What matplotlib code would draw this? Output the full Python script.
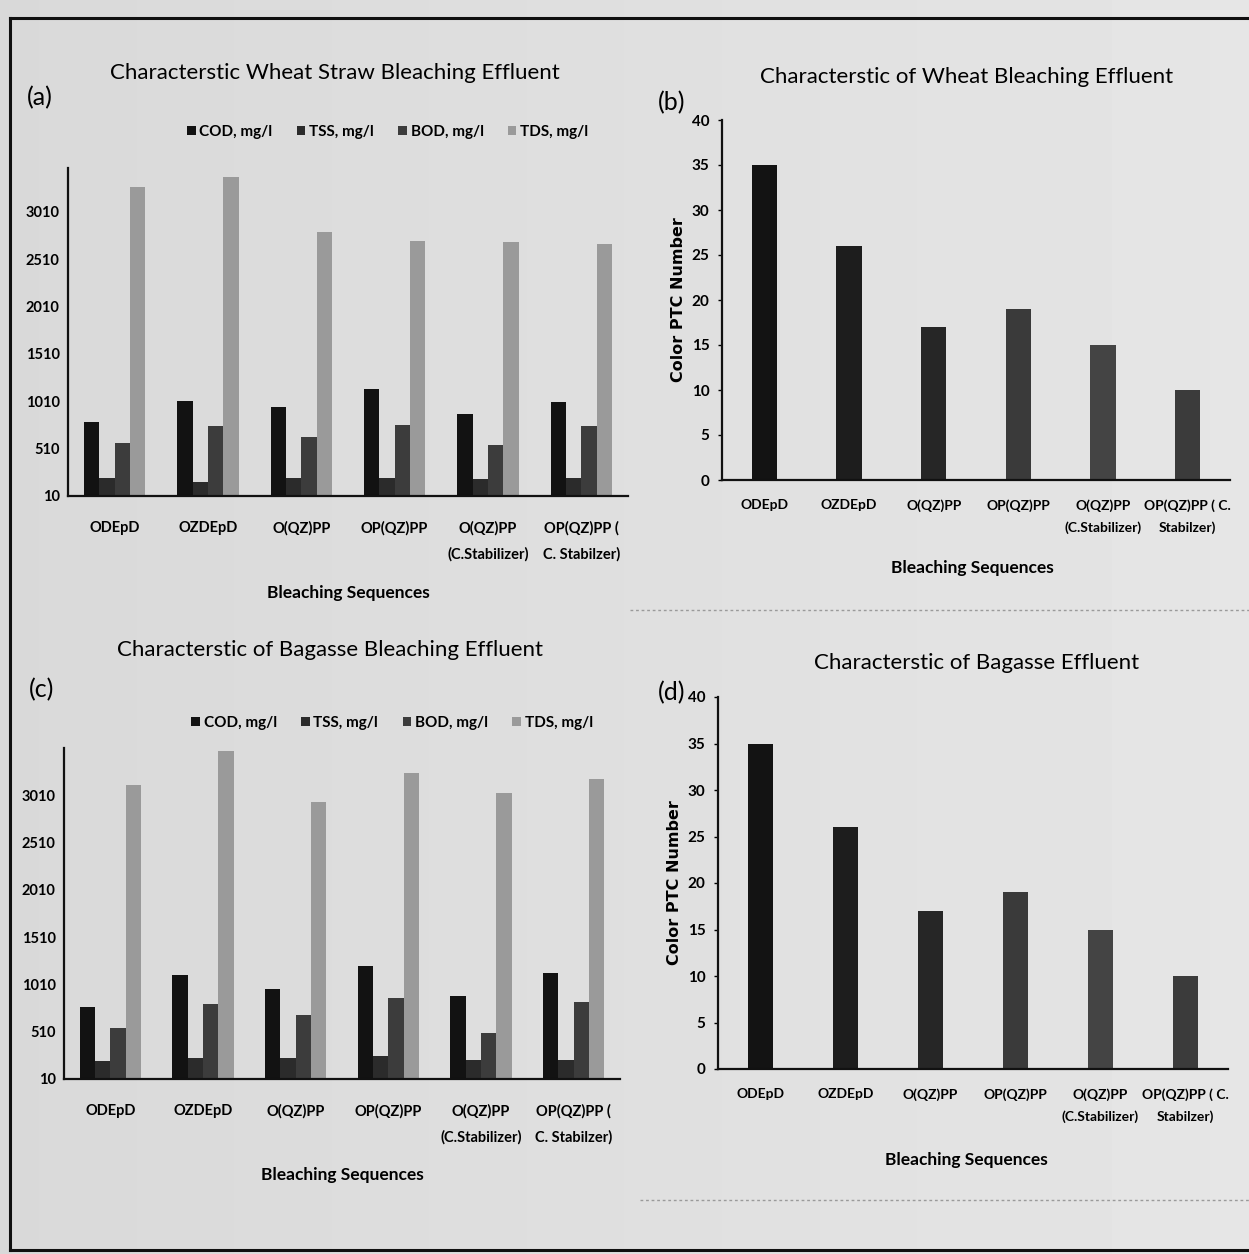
import matplotlib
matplotlib.use("Agg")
import matplotlib.pyplot as plt
import numpy as np
from matplotlib.lines import Line2D

# --- data -------------------------------------------------------------
seq_labels_ac = ["ODEpD", "OZDEpD", "O(QZ)PP", "OP(QZ)PP",
                 "O(QZ)PP\n(C.Stabilizer)", "OP(QZ)PP (\nC. Stabilzer)"]
seq_labels_bd = ["ODEpD", "OZDEpD", "O(QZ)PP", "OP(QZ)PP",
                 "O(QZ)PP\n(C.Stabilizer)", "OP(QZ)PP ( C.\nStabilzer)"]

param_names = ["COD, mg/l", "TSS, mg/l", "BOD, mg/l", "TDS, mg/l"]

# wheat straw effluent (mg/l)
wheat_cod = [790, 1010, 950, 1140, 880, 1000]
wheat_tss = [200, 160, 200, 200, 190, 200]
wheat_bod = [570, 750, 630, 760, 550, 750]
wheat_tds = [3270, 3380, 2800, 2700, 2690, 2670]

# bagasse effluent (mg/l)
bagasse_cod = [770, 1110, 960, 1210, 890, 1130]
bagasse_tss = [200, 230, 230, 250, 210, 210]
bagasse_bod = [550, 800, 690, 870, 500, 820]
bagasse_tds = [3120, 3480, 2940, 3250, 3030, 3180]

# colour (PTC units)
wheat_color = [35, 26, 17, 19, 15, 10]
bagasse_color = [35, 26, 17, 19, 15, 10]

W, H = 1249, 1254
NARROW = ["Liberation Sans Narrow", "Lato", "DejaVu Sans"]
plt.rcParams["font.family"] = NARROW

fig = plt.figure(figsize=(W / 100, H / 100), dpi=100)

# scanned page background, a touch lighter to the right
bg = fig.add_axes([0, 0, 1, 1], zorder=-10)
grad = np.linspace(0.85, 0.90, 256)[None, :]
bg.imshow(grad, cmap="gray", vmin=0, vmax=1, aspect="auto", extent=[0, 1, 0, 1])
bg.set_axis_off()


def box(x0, y0, x1, y1):
    """pixel box (top-left origin) -> figure fraction rect"""
    return [x0 / W, 1 - y1 / H, (x1 - x0) / W, (y1 - y0) / H]


def ftext(x, y, s, **kw):
    fig.text(x / W, 1 - y / H, s, **kw)


def style_axes(ax):
    ax.set_facecolor("none")
    for side in ("top", "right"):
        ax.spines[side].set_visible(False)
    for side in ("left", "bottom"):
        ax.spines[side].set_linewidth(1.6)
        ax.spines[side].set_color("#111111")
    ax.tick_params(axis="x", length=0, pad=18)
    ax.tick_params(axis="y", length=3, width=1, pad=6)


group_colors = ["#121212", "#2b2b2b", "#3c3c3c", "#9a9a9a"]


def grouped(ax, series, labels, ytop):
    x = np.arange(len(labels))
    w = 0.165
    for i, vals in enumerate(series):
        base = np.full(len(vals), 10)
        ax.bar(x + (i - 1.5) * w, np.array(vals) - 10, w, bottom=base,
               color=group_colors[i], label=param_names[i], linewidth=0)
    ax.set_xlim(-0.5, len(labels) - 0.5)
    ax.set_ylim(10, ytop)
    ax.set_yticks(np.arange(10, 3011, 500))
    ax.set_xticks(x)
    ax.set_xticklabels(labels, fontsize=10.5, fontweight="bold", linespacing=2.0)
    for t in ax.get_yticklabels():
        t.set_fontsize(10.5)
        t.set_fontweight("bold")
    ax.tick_params(axis="y", length=0)
    ax.legend(loc="center", bbox_to_anchor=(0.571, 1.11), ncol=4, frameon=False,
              handlelength=0.55, handleheight=0.55, handletextpad=0.25,
              columnspacing=1.6, prop={"family": NARROW, "size": 11, "weight": "bold"})


def colour_bars(ax, vals, labels):
    x = np.arange(len(labels))
    shades = ["#131313", "#1d1d1d", "#262626", "#3a3a3a", "#444444", "#3b3b3b"]
    ax.bar(x, vals, 0.3, color=shades, linewidth=0)
    ax.set_xlim(-0.5, len(labels) - 0.5)
    ax.set_ylim(0, 40)
    ax.set_yticks(np.arange(0, 41, 5))
    ax.set_xticks(x)
    ax.set_xticklabels(labels, fontsize=10, fontweight="bold", linespacing=1.9)
    for t in ax.get_yticklabels():
        t.set_fontsize(11)
        t.set_fontweight("bold")
    ax.tick_params(axis="x", pad=14)
    ax.set_ylabel("Color PTC Number", family="DejaVu Sans", fontsize=11.5,
                  fontweight="bold", labelpad=4)


# (a) wheat straw effluent parameters
ax_a = fig.add_axes(box(68, 168, 628, 496))
style_axes(ax_a)
grouped(ax_a, [wheat_cod, wheat_tss, wheat_bod, wheat_tds], seq_labels_ac, 3470)
ftext(335, 73, "Characterstic Wheat Straw Bleaching Effluent", fontsize=16,
      ha="center", va="center")
ftext(40, 98, "(a)", fontsize=18, ha="center", va="center")
ftext(348, 593, "Bleaching Sequences", fontsize=12.5, fontweight="bold",
      ha="center", va="center")

# (b) wheat effluent colour
ax_b = fig.add_axes(box(722, 120, 1230, 480))
style_axes(ax_b)
colour_bars(ax_b, wheat_color, seq_labels_bd)
ftext(967, 77, "Characterstic of Wheat Bleaching Effluent", fontsize=16,
      ha="center", va="center")
ftext(672, 103, "(b)", fontsize=18, ha="center", va="center")
ftext(972, 568, "Bleaching Sequences", fontsize=12.5, fontweight="bold",
      ha="center", va="center")

# (c) bagasse effluent parameters
ax_c = fig.add_axes(box(64, 748, 620, 1079))
style_axes(ax_c)
grouped(ax_c, [bagasse_cod, bagasse_tss, bagasse_bod, bagasse_tds], seq_labels_ac, 3510)
ax_c.get_legend().set_bbox_to_anchor((0.59, 1.075))
ftext(330, 650, "Characterstic of Bagasse Bleaching Effluent", fontsize=16,
      ha="center", va="center")
ftext(42, 690, "(c)", fontsize=18, ha="center", va="center")
ftext(342, 1175, "Bleaching Sequences", fontsize=12.5, fontweight="bold",
      ha="center", va="center")

# (d) bagasse effluent colour
ax_d = fig.add_axes(box(718, 697, 1228, 1069))
style_axes(ax_d)
colour_bars(ax_d, bagasse_color, seq_labels_bd)
ftext(977, 663, "Characterstic of Bagasse Effluent", fontsize=16,
      ha="center", va="center")
ftext(672, 693, "(d)", fontsize=18, ha="center", va="center")
ftext(966, 1160, "Bleaching Sequences", fontsize=12.5, fontweight="bold",
      ha="center", va="center")

# page frame and dotted separators on the right column
frame = dict(color="#101010", linewidth=2.2, transform=fig.transFigure)
fig.add_artist(Line2D([10 / W, 1], [1 - 18 / H, 1 - 18 / H], **frame))
fig.add_artist(Line2D([10 / W, 10 / W], [1 - 18 / H, 1 - 1250 / H], **frame))
fig.add_artist(Line2D([10 / W, 1], [1 - 1250 / H, 1 - 1250 / H], **frame))
sep = dict(color="#9a9a9a", linewidth=1, linestyle=(0, (2, 2)), transform=fig.transFigure)
fig.add_artist(Line2D([630 / W, 1], [1 - 610 / H, 1 - 610 / H], **sep))
fig.add_artist(Line2D([640 / W, 1], [1 - 1200 / H, 1 - 1200 / H], **sep))

fig.savefig("out.png", dpi=100)
